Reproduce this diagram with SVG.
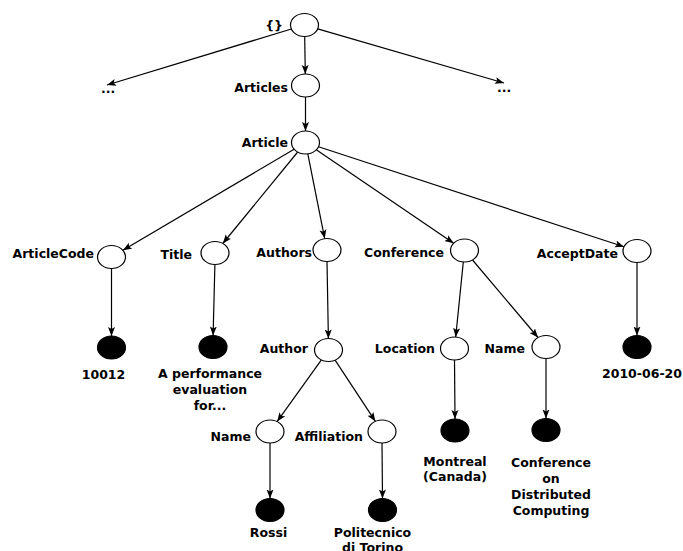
<svg xmlns="http://www.w3.org/2000/svg" width="683" height="551" viewBox="0 0 683 551">
<style>
.n{fill:#fff;stroke:#000;stroke-width:1.2}
.l{fill:#000;stroke:#000;stroke-width:1.2}
.e{stroke:#000;stroke-width:1.2;fill:none;marker-end:url(#a)}
text{font-family:"DejaVu Sans","Liberation Sans",sans-serif;font-weight:bold;font-size:12.5px;fill:#000}
.r{text-anchor:end}
.m{text-anchor:middle}
</style>
<defs>
<marker id="a" markerUnits="userSpaceOnUse" markerWidth="10" markerHeight="8" refX="9" refY="4" orient="auto">
<path d="M0,0.5 L9,4 L0,7.5 L2,4 z" fill="#000"/>
</marker>
</defs>
<rect width="683" height="551" fill="#fff"/>
<g id="connectors">
<line class="e" x1="304.7" y1="36.5" x2="305.3" y2="74"/>
<line class="e" x1="305.5" y1="97" x2="305.5" y2="131"/>
<line class="e" x1="291.4" y1="29" x2="107" y2="85"/>
<line class="e" x1="317.7" y1="28.8" x2="504" y2="83"/>
<line class="e" x1="294.1" y1="149.2" x2="122.9" y2="250.3"/>
<line class="e" x1="297.7" y1="152" x2="222.8" y2="243.5"/>
<line class="e" x1="307.8" y1="153.9" x2="324.7" y2="238.6"/>
<line class="e" x1="316.3" y1="149.8" x2="453.7" y2="243.2"/>
<line class="e" x1="318.5" y1="146.8" x2="624" y2="246.7"/>
<line class="e" x1="111.5" y1="268.5" x2="111.5" y2="336"/>
<line class="e" x1="214.9" y1="264.5" x2="213.1" y2="335.5"/>
<line class="e" x1="327" y1="261.5" x2="328.4" y2="338.5"/>
<line class="e" x1="463.3" y1="262" x2="455.7" y2="337"/>
<line class="e" x1="472.5" y1="260" x2="538" y2="337.5"/>
<line class="e" x1="637" y1="262.5" x2="637" y2="335.5"/>
<line class="e" x1="321.4" y1="359.9" x2="277.1" y2="421.6"/>
<line class="e" x1="335.1" y1="360.1" x2="375.4" y2="421.4"/>
<line class="e" x1="454.5" y1="360" x2="455" y2="419"/>
<line class="e" x1="546" y1="358.5" x2="546" y2="418.5"/>
<line class="e" x1="270" y1="443" x2="270" y2="498.5"/>
<line class="e" x1="382" y1="443" x2="382.5" y2="498.5"/>
</g>
<g id="root"><ellipse class="n" cx="304.5" cy="25" rx="14" ry="11.5"/><text class="r" x="283" y="30">{}</text></g>
<g id="dotsLeft"><text x="101" y="93">...</text></g>
<g id="dotsRight"><text x="497" y="92">...</text></g>
<g id="articles"><ellipse class="n" cx="305.5" cy="85.5" rx="14" ry="11.5"/><text class="r" x="288" y="92">Articles</text></g>
<g id="article"><ellipse class="n" cx="305.5" cy="142.5" rx="14" ry="11.5"/><text class="r" x="288" y="147">Article</text></g>
<g id="articleCode"><ellipse class="n" cx="111.5" cy="257" rx="14" ry="11.5"/><text class="r" x="94" y="258">ArticleCode</text></g>
<g id="title"><ellipse class="n" cx="215" cy="253" rx="14" ry="11.5"/><text class="r" x="192" y="259">Title</text></g>
<g id="authors"><ellipse class="n" cx="327" cy="250" rx="14" ry="11.5"/><text class="r" x="312" y="257">Authors</text></g>
<g id="conference"><ellipse class="n" cx="464.5" cy="250.5" rx="14" ry="11.5"/><text class="r" x="444" y="257">Conference</text></g>
<g id="acceptDate"><ellipse class="n" cx="637" cy="251" rx="14" ry="11.5"/><text class="r" x="618" y="258">AcceptDate</text></g>
<g id="leafCode"><ellipse class="l" cx="111.5" cy="347.5" rx="14" ry="11.5"/><text class="m" x="103.5" y="379">10012</text></g>
<g id="leafTitle"><ellipse class="l" cx="213" cy="347" rx="14" ry="11.5"/><text class="m" x="210" y="378">A performance</text><text class="m" x="210" y="394">evaluation</text><text class="m" x="210" y="410">for...</text></g>
<g id="author"><ellipse class="n" cx="328.5" cy="350" rx="14" ry="11.5"/><text class="r" x="308" y="353">Author</text></g>
<g id="location"><ellipse class="n" cx="454.5" cy="348.5" rx="14" ry="11.5"/><text class="r" x="435" y="353">Location</text></g>
<g id="confName"><ellipse class="n" cx="546" cy="347" rx="14" ry="11.5"/><text class="r" x="525" y="353">Name</text></g>
<g id="leafDate"><ellipse class="l" cx="637" cy="347" rx="14" ry="11.5"/><text class="m" x="642" y="378">2010-06-20</text></g>
<g id="authorName"><ellipse class="n" cx="270" cy="431.5" rx="14" ry="11.5"/><text class="r" x="251" y="441">Name</text></g>
<g id="affiliation"><ellipse class="n" cx="382" cy="431.5" rx="14" ry="11.5"/><text class="r" x="363" y="441">Affiliation</text></g>
<g id="leafMontreal"><ellipse class="l" cx="455" cy="430.5" rx="14" ry="11.5"/><text class="m" x="455" y="466">Montreal</text><text class="m" x="455" y="481">(Canada)</text></g>
<g id="leafConf"><ellipse class="l" cx="546" cy="430" rx="14" ry="11.5"/><text class="m" x="551" y="467">Conference</text><text class="m" x="551" y="483">on</text><text class="m" x="551" y="499">Distributed</text><text class="m" x="551" y="515">Computing</text></g>
<g id="leafRossi"><ellipse class="l" cx="270" cy="510" rx="14" ry="11.5"/><text class="m" x="268.5" y="537">Rossi</text></g>
<g id="leafPoli"><ellipse class="l" cx="382.5" cy="510" rx="14" ry="11.5"/><text class="m" x="372.5" y="537">Politecnico</text><text class="m" x="372.5" y="552">di Torino</text></g>
</svg>
